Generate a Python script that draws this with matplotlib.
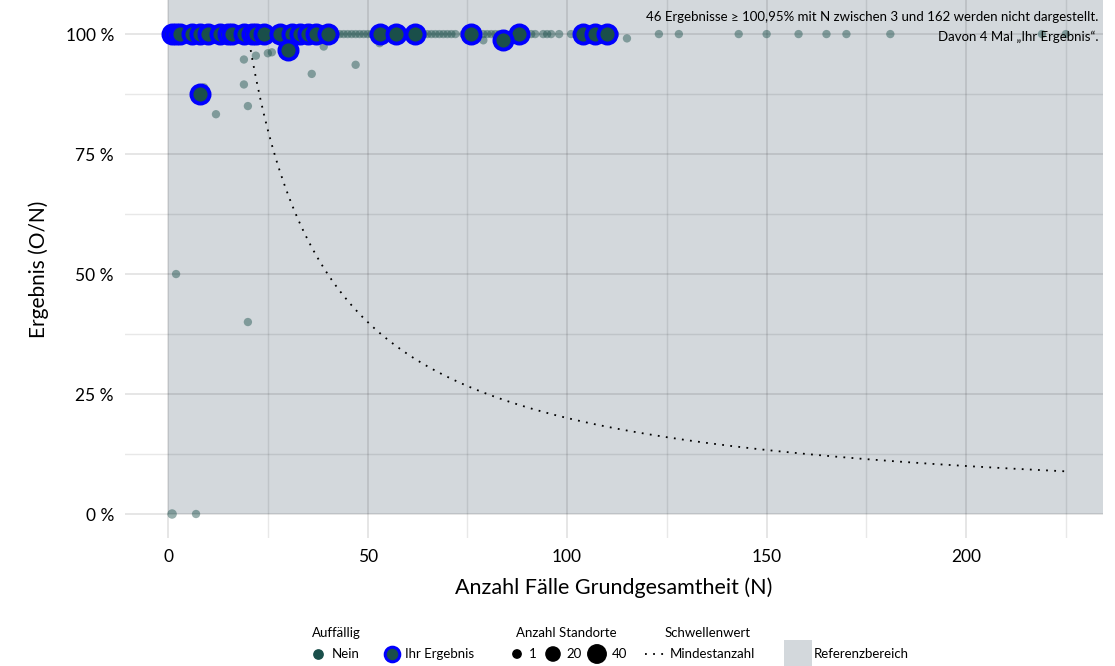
import matplotlib
matplotlib.use("Agg")
import matplotlib.pyplot as plt
from matplotlib.patches import Rectangle
from matplotlib.ticker import FuncFormatter
import numpy as np

plt.rcParams['font.family'] = ['Lato', 'DejaVu Sans']

# "Nein" results (not flagged), N and result in percent
n_line = [1, 2, 3, 4, 5, 6, 7, 8, 10, 11, 13, 14, 15, 16, 17, 18, 20, 21, 23, 25,
          27, 29, 31, 32, 34, 36, 38, 40, 41, 42, 43, 44, 45, 46, 47, 48, 49, 50,
          51, 54, 58, 63, 64, 65, 66, 67, 68, 69, 70, 71, 72, 74, 77, 79, 80, 81,
          82, 83, 86, 89, 91, 92, 94, 95, 96, 98, 101, 103, 105, 108, 112, 123,
          128, 143, 150, 158, 165, 170, 181, 219, 225]
n_other = [1, 7, 2, 20, 9, 12, 19, 20, 36, 19, 22, 25, 26, 39, 47, 53, 79, 115]
y_other = [0, 0, 50, 40, 88.9, 83.3, 89.5, 85, 91.7, 94.7, 95.5, 96, 96.2, 97.4,
           93.6, 98.1, 98.7, 99.1]
st_other = [4, 1, 1, 1, 1, 1, 1, 1, 1, 1, 1, 1, 1, 1, 1, 1, 1, 1]

# "Ihr Ergebnis"
n_ihr100 = [1, 2, 3, 6, 8, 10, 13, 15, 16, 19, 21, 22, 24, 28, 31, 33, 35, 37, 40,
            53, 57, 62, 76, 88, 104, 107, 110]
n_ihr_other = [8, 30, 84]
y_ihr_other = [87.5, 96.7, 98.8]

# threshold (Mindestanzahl): O/N = 20/N
n_thr = np.arange(20, 226)
y_thr = 20 / n_thr * 100

n_nein = n_line + n_other
y_nein = [100] * len(n_line) + y_other
st_nein = [1] * len(n_line) + st_other
n_ihr = n_ihr100 + n_ihr_other
y_ihr = [100] * len(n_ihr100) + y_ihr_other


def size(n):
    return 36 + (np.asarray(n) - 1) * 3.6


teal = '#1a4f4a'
gray_bg = '#d3d8dc'

fig = plt.figure(figsize=(11.15, 6.66), dpi=100)
ax = fig.add_axes([125 / 1115, 128 / 666, 978 / 1115, 538 / 666])
xmin, xmax = -10.8, 234.3
ymin, ymax = -5, 107.1
ax.set_xlim(xmin, xmax)
ax.set_ylim(ymin, ymax)

ax.add_patch(Rectangle((0, 0), xmax, ymax, facecolor=gray_bg, edgecolor='none', zorder=0))
for v in [0, 50, 100, 150, 200]:
    ax.axvline(v, color='black', alpha=0.13, lw=1.1, zorder=0.5)
for v in [25, 75, 125, 175, 225]:
    ax.axvline(v, color='black', alpha=0.09, lw=1.0, zorder=0.5)
for v in [0, 25, 50, 75, 100]:
    ax.axhline(v, color='black', alpha=0.13, lw=1.1, zorder=0.5)
for v in [12.5, 37.5, 62.5, 87.5]:
    ax.axhline(v, color='black', alpha=0.09, lw=1.0, zorder=0.5)

ax.plot(n_thr, y_thr, color='black', lw=1.3, linestyle=(0, (1, 3.5)), zorder=2)
ax.scatter(n_nein, y_nein, s=size(st_nein), color=teal, alpha=0.45, linewidths=0, zorder=3)
ax.scatter(n_ihr, y_ihr, s=170, color=teal, edgecolors='#0000ff', linewidths=2.8, zorder=4)

for s in ax.spines.values():
    s.set_visible(False)
ax.set_xticks([0, 50, 100, 150, 200])
ax.set_yticks([0, 25, 50, 75, 100])
ax.yaxis.set_major_formatter(FuncFormatter(lambda v, p: f'{v:.0f} %'))
ax.tick_params(length=0, labelsize=12.5, colors='black', pad=8)
ax.set_xlabel('Anzahl Fälle Grundgesamtheit (N)', fontsize=15.5, labelpad=9)
ax.set_ylabel('Ergebnis (O/N)', fontsize=15, labelpad=12)

fig.text(1098 / 1115, 1 - 17 / 666,
         '46 Ergebnisse ≥ 100,95% mit N zwischen 3 und 162 werden nicht dargestellt.',
         ha='right', va='center', fontsize=9.5)
fig.text(1098 / 1115, 1 - 37 / 666, 'Davon 4 Mal „Ihr Ergebnis“.',
         ha='right', va='center', fontsize=9.5)

# legend drawn in pixel coordinates
lax = fig.add_axes([0, 0, 1, 1], facecolor='none')
lax.set_xlim(0, 1115)
lax.set_ylim(666, 0)
lax.axis('off')
fs = 9.5
ty, iy = 633, 654
lax.text(312, ty, 'Auffällig', fontsize=fs, va='center')
lax.scatter([318], [iy], s=45, color=teal)
lax.text(332, iy, 'Nein', fontsize=fs, va='center')
lax.scatter([392], [iy], s=110, color=teal, edgecolors='#0000ff', linewidths=2.2)
lax.text(405, iy, 'Ihr Ergebnis', fontsize=fs, va='center')
lax.text(516, ty, 'Anzahl Standorte', fontsize=fs, va='center')
lax.scatter([517, 553, 597], [iy, iy, iy], s=size([1, 20, 40]), color='black')
lax.text(529, iy, '1', fontsize=fs, va='center')
lax.text(566, iy, '20', fontsize=fs, va='center')
lax.text(612, iy, '40', fontsize=fs, va='center')
lax.text(665, ty, 'Schwellenwert', fontsize=fs, va='center')
lax.plot([645, 664], [iy, iy], color='black', lw=1.3, linestyle=(0, (1, 3.5)))
lax.text(670, iy, 'Mindestanzahl', fontsize=fs, va='center')
lax.add_patch(Rectangle((784, 640), 28, 26, facecolor=gray_bg, edgecolor='none'))
lax.text(814, iy, 'Referenzbereich', fontsize=fs, va='center')

fig.savefig('out.png', dpi=100)
